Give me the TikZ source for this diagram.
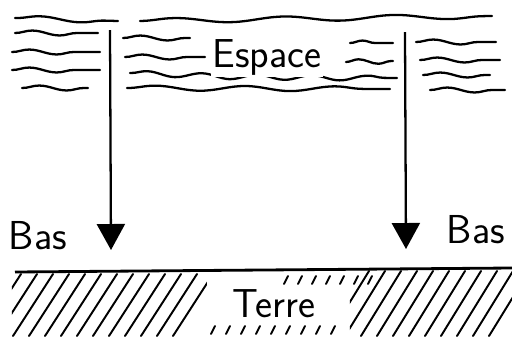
\documentclass[tikz,border=0pt]{standalone}
\usetikzlibrary{arrows.meta, decorations.pathmorphing, positioning}
\tikzset{
  wave/.style={line width=1.3pt, line cap=round, decorate,
               decoration={snake, segment length=#1, amplitude=1.4pt}},
  wave/.default=1.1cm,
  fall/.style={-{Triangle[width=0.56cm, length=0.52cm]}, line width=1.3pt},
  hatch/.style={line width=1.1pt, line cap=round},
  word/.style={font=\sffamily\fontsize{23}{26}\selectfont, inner sep=0pt},
}

\begin{document}
\begin{tikzpicture}[x=0.02cm, y=-0.02cm]
\useasboundingbox (0,0) rectangle (512,336);

% sky: wavy lines
\draw[wave=1.6cm] (15,18) -- (118,21);
\draw[wave=2.2cm] (140,21) -- (492,16);
\foreach \y/\a/\b in {33/15/98, 52/12/100, 70/12/100, 88/22/88}
  \draw[wave] (\a,\y) -- (\b,\y);
\draw[wave] (123,38) -- (190,38);
\draw[wave] (125,57) -- (205,57);
\draw[wave] (130,73) -- (210,76) -- (397,78);
\draw[wave=1.8cm] (127,88) -- (390,89);
\draw[wave=0.8cm] (350,43) -- (393,43);
\draw[wave=0.8cm] (346,62) -- (393,61);
\foreach \y/\a/\b in {42/416/496, 60/420/500, 75/423/490, 90/430/505}
  \draw[wave] (\a,\y) -- (\b,\y);

\node[word, fill=white, inner sep=1pt] (space) at (267,57) {Espace};

% the two arrows down
\coordinate (topL) at (110,30);
\coordinate (tipL) at (111,250);
\coordinate (topR) at (405,32);
\coordinate (tipR) at (406,249);
\draw[fall] (topL) -- (tipL);
\draw[fall] (topR) -- (tipR);

\node[word] (basL) at (38,236) {Bas};
\node[word] (basR) at (476,230) {Bas};

% ground
\coordinate (gndL) at (15,272);
\coordinate (gndR) at (512,268);
\draw[line width=1.6pt] (gndL) -- (gndR);

\begin{scope}
  \clip (12,273) rectangle (207,336);
  \foreach \x in {21,37,...,213}
    \draw[hatch] (\x,274) -- (\x-40,336);
\end{scope}
\begin{scope}
  \clip (350,270) rectangle (512,336);
  \foreach \x in {369,385,...,530}
    \draw[hatch] (\x,271) -- (\x-40,336);
\end{scope}

% sparse strokes under the word
\foreach \x in {288,302,...,372}
  \draw[hatch] (\x,276) -- (\x-4,284);
\foreach \x in {215,230,...,340}
  \draw[hatch] (\x,326) -- (\x-4,334);

\node[word] (earth) at (274,304) {Terre};

\end{tikzpicture}
\end{document}
